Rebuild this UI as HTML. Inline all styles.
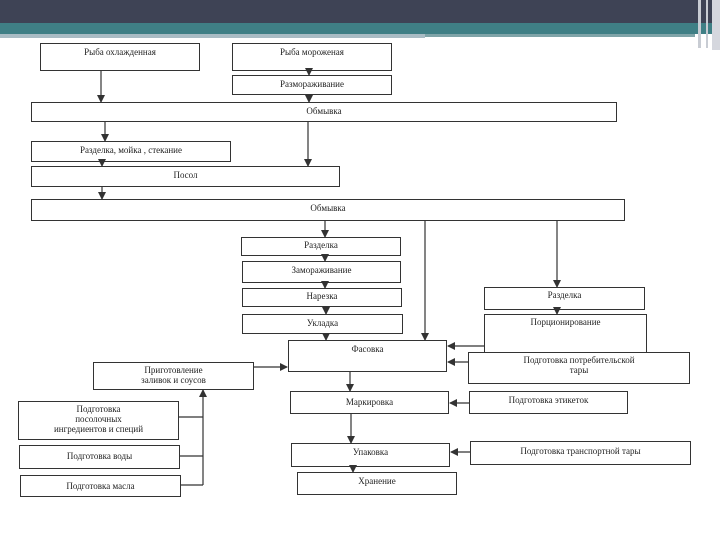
<!DOCTYPE html>
<html><head><meta charset="utf-8"><style>
body{margin:0;width:720px;height:540px;background:#fff;overflow:hidden;position:relative;font-family:"Liberation Serif",serif;}
.b{position:absolute;border:1.3px solid #333;box-sizing:border-box;font-size:9px;color:#222;text-align:center;line-height:11px;padding-top:3px;}
svg{position:absolute;left:0;top:0}
</style></head><body>
<div style="position:absolute;left:0;top:0;width:720px;height:23px;background:#3e4355"></div>
<div style="position:absolute;left:0;top:23px;width:720px;height:11px;background:#3f7f85"></div>
<div style="position:absolute;left:0;top:34px;width:425px;height:4px;background:#a9bcc4"></div>
<div style="position:absolute;left:425px;top:34px;width:270px;height:3px;background:#7fa4a8"></div>
<div style="position:absolute;left:698px;top:0;width:3px;height:48px;background:#c8ccd3"></div>
<div style="position:absolute;left:706px;top:0;width:2px;height:48px;background:#c8ccd3"></div>
<div style="position:absolute;left:712px;top:0;width:8px;height:50px;background:#d5d7de"></div>

<div class="b" style="left:40px;top:43px;width:160px;height:28px">Рыба охлажденная</div>
<div class="b" style="left:232px;top:43px;width:160px;height:28px">Рыба мороженая</div>
<div class="b" style="left:232px;top:75px;width:160px;height:20px">Размораживание</div>
<div class="b" style="left:31px;top:102px;width:586px;height:20px">Обмывка</div>
<div class="b" style="left:31px;top:141px;width:200px;height:21px">Разделка, мойка , стекание</div>
<div class="b" style="left:31px;top:166px;width:309px;height:21px">Посол</div>
<div class="b" style="left:31px;top:199px;width:594px;height:22px">Обмывка</div>
<div class="b" style="left:241px;top:237px;width:160px;height:19px;padding-top:2px">Разделка</div>
<div class="b" style="left:242px;top:261px;width:159px;height:22px">Замораживание</div>
<div class="b" style="left:242px;top:288px;width:160px;height:19px;padding-top:2px">Нарезка</div>
<div class="b" style="left:242px;top:314px;width:161px;height:20px">Укладка</div>
<div class="b" style="left:288px;top:340px;width:159px;height:32px">Фасовка</div>
<div class="b" style="left:93px;top:362px;width:161px;height:28px;padding-top:2px;line-height:10px">Приготовление<br>заливок и соусов</div>
<div class="b" style="left:18px;top:401px;width:161px;height:39px;padding-top:2px;line-height:10px">Подготовка<br>посолочных<br>ингредиентов и специй</div>
<div class="b" style="left:19px;top:445px;width:161px;height:24px;padding-top:5px">Подготовка воды</div>
<div class="b" style="left:20px;top:475px;width:161px;height:22px;padding-top:5px">Подготовка масла</div>
<div class="b" style="left:290px;top:391px;width:159px;height:23px;padding-top:5px">Маркировка</div>
<div class="b" style="left:291px;top:443px;width:159px;height:24px">Упаковка</div>
<div class="b" style="left:297px;top:472px;width:160px;height:23px">Хранение</div>
<div class="b" style="left:484px;top:287px;width:161px;height:23px;padding-top:2px">Разделка</div>
<div class="b" style="left:484px;top:314px;width:163px;height:45px;padding-top:2px">Порционирование</div>
<div class="b" style="left:468px;top:352px;width:222px;height:32px;padding-top:2px;line-height:10px;background:#fff">Подготовка потребительской<br>тары</div>
<div class="b" style="left:469px;top:391px;width:159px;height:23px;padding-top:3px">Подготовка этикеток</div>
<div class="b" style="left:470px;top:441px;width:221px;height:24px;padding-top:4px">Подготовка транспортной тары</div>

<svg width="720" height="540">
<defs><marker id="a" markerWidth="8" markerHeight="8" refX="7" refY="4" orient="auto" markerUnits="userSpaceOnUse"><path d="M0,0L8,4L0,8z" fill="#333"/></marker></defs>
<g stroke="#333" stroke-width="1.2" fill="none" marker-end="url(#a)">
<line x1="101" y1="71" x2="101" y2="102"/>
<line x1="309" y1="71" x2="309" y2="75"/>
<line x1="309" y1="95" x2="309" y2="102"/>
<line x1="105" y1="122" x2="105" y2="141"/>
<line x1="308" y1="122" x2="308" y2="166"/>
<line x1="102" y1="162" x2="102" y2="166"/>
<line x1="102" y1="187" x2="102" y2="199"/>
<line x1="325" y1="221" x2="325" y2="237"/>
<line x1="325" y1="256" x2="325" y2="261"/>
<line x1="325" y1="283" x2="325" y2="288"/>
<line x1="326" y1="307" x2="326" y2="314"/>
<line x1="326" y1="334" x2="326" y2="340"/>
<line x1="425" y1="221" x2="425" y2="340"/>
<line x1="557" y1="221" x2="557" y2="287"/>
<line x1="557" y1="310" x2="557" y2="314"/>
<line x1="484" y1="346" x2="448" y2="346"/>
<line x1="468" y1="362" x2="448" y2="362"/>
<line x1="350" y1="372" x2="350" y2="391"/>
<line x1="469" y1="403" x2="450" y2="403"/>
<line x1="351" y1="414" x2="351" y2="443"/>
<line x1="470" y1="452" x2="451" y2="452"/>
<line x1="353" y1="467" x2="353" y2="472"/>
<line x1="254" y1="367" x2="287" y2="367"/>
<line x1="203" y1="485" x2="203" y2="390"/>
</g>
<g stroke="#333" stroke-width="1.2">
<line x1="179" y1="417" x2="203" y2="417"/>
<line x1="180" y1="456" x2="203" y2="456"/>
<line x1="181" y1="485" x2="203" y2="485"/>
</g>
</svg>
</body></html>
